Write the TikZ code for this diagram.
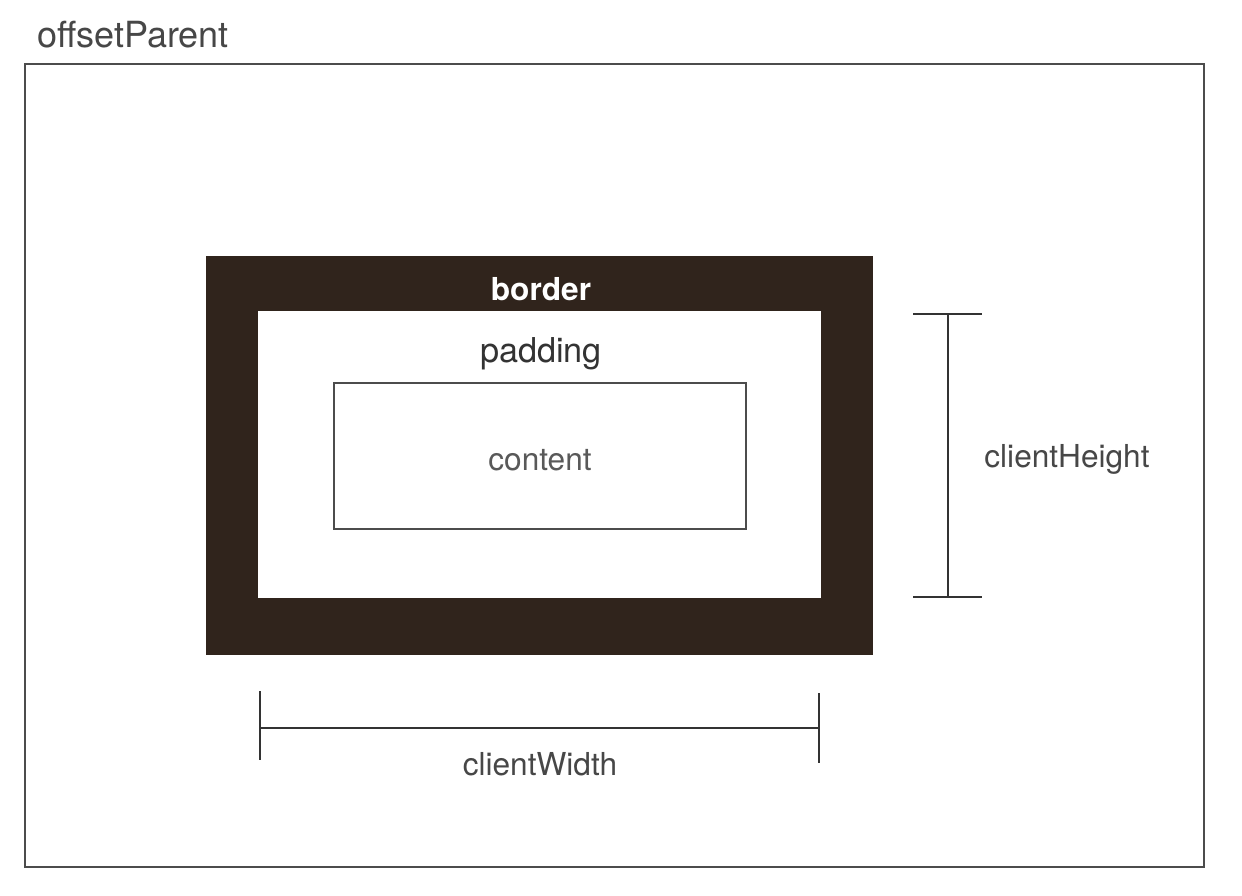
\documentclass[tikz,border=0pt]{standalone}
\usepackage{fontspec}
\setmainfont{TeX Gyre Heros}
\usepackage{color}
\definecolor{bordercol}{rgb}{0.19, 0.14, 0.11}
\definecolor{linegray}{rgb}{0.3, 0.3, 0.3}
\definecolor{textgray}{rgb}{0.28, 0.28, 0.28}

\begin{document}
\begin{tikzpicture}[x=0.02cm, y=-0.02cm,
		boxlabel/.style={text=textgray, inner sep=0pt, anchor=base, font=\fontsize{18}{22}\selectfont},
		bigboxlabel/.style={boxlabel, font=\fontsize{19.5}{23}\selectfont},
		dimline/.style={draw=black!80, line width=1.1pt}]
			\useasboundingbox (0,0) rectangle (1242,896);
			\fill [white] (0,0) rectangle (1242,896);
			% offsetParent
			\draw [linegray, line width=1.1pt] (25,64) rectangle (1204,867);
			\node [boxlabel, anchor=base west, font=\fontsize{20.5}{24}\selectfont] (parent) at (37,47) {offsetParent};
			% border and padding
			\fill [color=bordercol] (206,256) rectangle (873,655);
			\fill [color=white] (258,311) rectangle (821,598);
			\node [boxlabel, text=white, font=\fontsize{18}{22}\selectfont\bfseries] (border) at (541,300) {border};
			\node [bigboxlabel, text=black!80] (padding) at (541,362) {padding};
			% content
			\draw [linegray, line width=0.9pt] (334,383) rectangle (746,529);
			\node [boxlabel, text=black!65] (content) at (540,470) {content};
			% clientHeight
			\coordinate (htop) at (948,314);
			\coordinate (hbot) at (948,597);
			\draw [dimline] (htop) -- (hbot);
			\draw [dimline] (913,314) -- (982,314);
			\draw [dimline] (913,597) -- (982,597);
			\node [boxlabel] (height) at (1067,467) {clientHeight};
			% clientWidth
			\coordinate (wleft) at (260,728);
			\coordinate (wright) at (819,728);
			\draw [dimline] (wleft) -- (wright);
			\draw [dimline] (260,691) -- (260,760);
			\draw [dimline] (819,693) -- (819,763);
			\node [boxlabel] (width) at (540,775) {clientWidth};
		\end{tikzpicture}
\end{document}
